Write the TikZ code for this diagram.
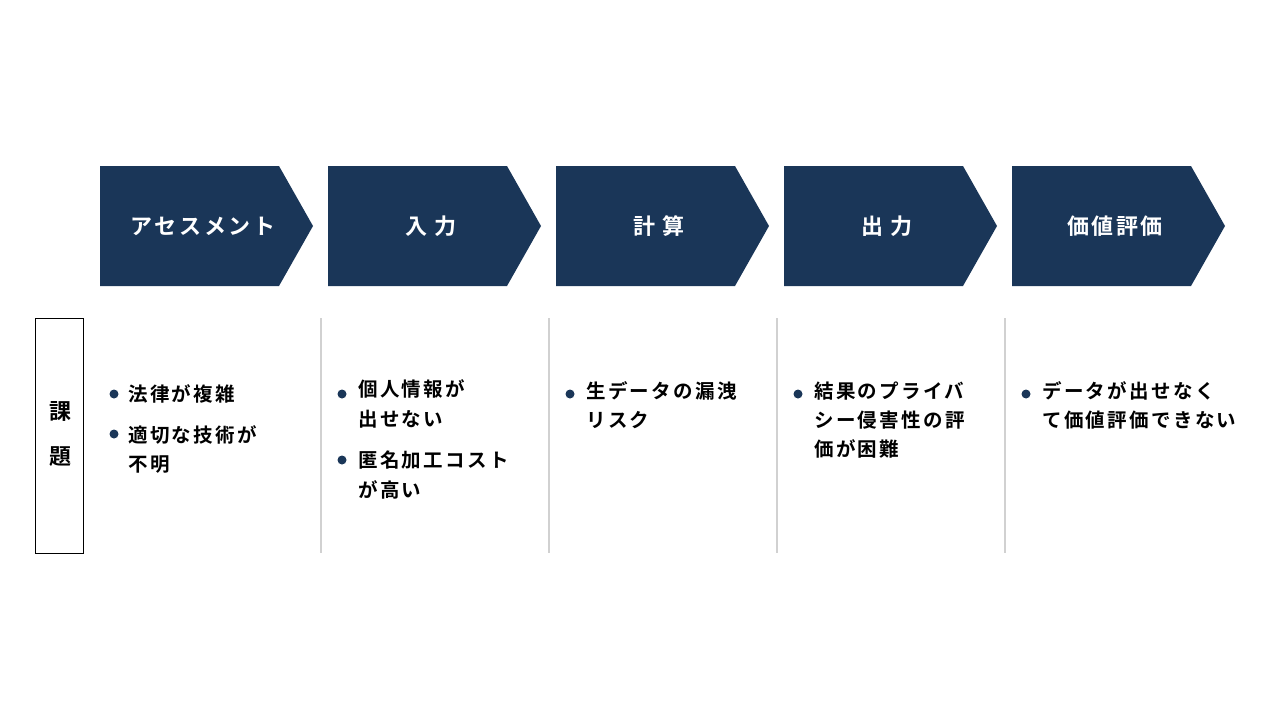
\documentclass[tikz,border=0pt]{standalone}
\usepackage{fontspec}
\newfontfamily\jp[LetterSpace=12]{Noto Sans CJK JP Bold}
\definecolor{navy}{HTML}{1A3658}
\begin{document}
\begin{tikzpicture}[x=1pt,y=-1pt,
  chev/.style={fill=navy,draw=none},
  head/.style={text=white,font=\jp\fontsize{22}{26}\selectfont},
  item/.style={anchor=west,inner sep=0,font=\jp\fontsize{19.5}{24}\selectfont,text=black},
  sep/.style={draw=black!18,line width=1.2pt}]
\useasboundingbox (0,0) rectangle (1280,720);
\foreach \x/\t/\n in {100/アセスメント/h1,328/入 力/h2,556/計 算/h3,784/出 力/h4,1012/価値評価/h5}{
  \fill[chev] (\x,166) -- (\x+179,166) -- (\x+213,226) -- (\x+179,286) -- (\x,286) -- cycle;
  \node[head] (\n) at (\x+103,226) {\t};
}
\node[draw=black,line width=0.8pt,minimum width=48,minimum height=235,inner sep=0] (k) at (59,435.5) {};
\node[font=\jp\fontsize{22}{26}\selectfont] (k1) at (60,411) {課};
\node[font=\jp\fontsize{22}{26}\selectfont] (k2) at (60,457) {題};
\foreach \x/\n in {321/s1,549/s2,777/s3,1005/s4}{
  \coordinate (\n a) at (\x,318); \coordinate (\n b) at (\x,553);
  \draw[sep] (\n a) -- (\n b);
}
\foreach \x/\y/\n in {114/394/b1,114/434/b2,342/394/b3,342/460/b4,570/394/b5,798/394/b6,1026/394/b7}{
  \fill[navy] (\x,\y) circle (4.5);
}
\node[item] (t1) at (128,394) {法律が複雑};
\node[item] (t2) at (128,435) {適切な技術が};
\node[item] (t3) at (128,465) {不明};
\node[item] (t4) at (358,389) {個人情報が};
\node[item] (t5) at (358,419) {出せない};
\node[item] (t6) at (358,460) {匿名加工コスト};
\node[item] (t7) at (358,490) {が高い};
\node[item] (t8) at (586,391) {生データの漏洩};
\node[item] (t9) at (586,420) {リスク};
\node[item] (t10) at (814,391) {結果のプライバ};
\node[item] (t11) at (814,420) {シー侵害性の評};
\node[item] (t12) at (814,449) {価が困難};
\node[item] (t13) at (1042,391) {データが出せなく};
\node[item] (t14) at (1042,420) {て価値評価できない};
\end{tikzpicture}
\end{document}
